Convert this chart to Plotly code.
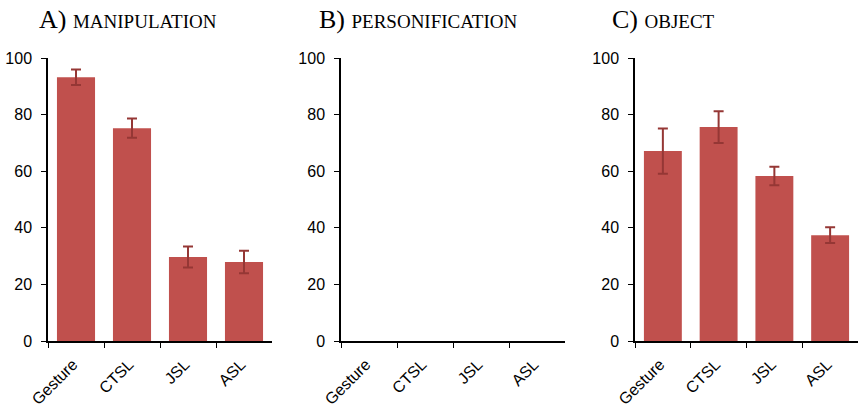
import plotly.graph_objects as go

categories = ["Gesture", "CTSL", "JSL", "ASL"]
manip_vals = [93.2, 75.2, 29.7, 27.9]
manip_err = [2.7, 3.4, 3.7, 4.0]
person_vals = [0, 0, 0, 0]
object_vals = [67.1, 75.6, 58.3, 37.4]
object_err = [8.0, 5.6, 3.3, 2.8]
yticks = [0, 20, 40, 60, 80, 100]

W, H = 859, 408
BAR = "#C0504D"
ERR = "#953735"

fig = go.Figure()

panels = [
    ("x", "y", manip_vals, manip_err, (48, 272)),
    ("x2", "y2", person_vals, None, (341, 565)),
    ("x3", "y3", object_vals, object_err, (635, 858)),
]

for i, (xa, ya, vals, err, dom) in enumerate(panels):
    kw = {}
    if err is not None:
        kw["error_y"] = dict(type="data", array=err, visible=True, color=ERR,
                             thickness=2, width=5)
    fig.add_trace(go.Bar(x=categories, y=vals, xaxis=xa, yaxis=ya,
                         marker=dict(color=BAR, line=dict(width=0)),
                         width=0.68, showlegend=False,
                         opacity=1 if err is not None else 0, **kw))
    suffix = "" if i == 0 else str(i + 1)
    fig.update_layout(**{
        "xaxis" + suffix: dict(domain=[dom[0] / W, dom[1] / W], anchor="y" + suffix,
                               type="category", categoryarray=categories,
                               range=[-0.5, 3.5], showline=True, linecolor="black",
                               linewidth=1.5, ticks="outside", tickson="boundaries",
                               ticklen=5, tickcolor="black", tickangle=-45,
                               ticklabelstandoff=6, ticklabelshift=-3,
                               tickfont=dict(family="Liberation Sans, Arial", size=16, color="black"),
                               showgrid=False, zeroline=False, fixedrange=True,
                               automargin=False),
        "yaxis" + suffix: dict(domain=[(H - 341) / H, (H - 58) / H], anchor="x" + suffix,
                               range=[0, 100], tickvals=yticks, showline=True,
                               linecolor="black", linewidth=1.5, ticks="outside",
                               ticklen=5, tickcolor="black", ticklabelstandoff=6,
                               tickfont=dict(family="Liberation Sans, Arial", size=16, color="black"),
                               showgrid=False, zeroline=False, fixedrange=True,
                               automargin=False),
    })

titles = [("A)", "MANIPULATION", 37), ("B)", "PERSONIFICATION", 317), ("C)", "OBJECT", 610)]
for letter, word, x0 in titles:
    fig.add_annotation(x=x0 / W, y=1 - 19 / H, xref="paper", yref="paper",
                       xanchor="left", yanchor="middle", showarrow=False,
                       text=f"{letter} <span style='font-size:19px'>{word}</span>",
                       font=dict(family="Liberation Serif, Times New Roman", size=26, color="black"))

fig.update_layout(width=W, height=H, margin=dict(l=0, r=0, t=0, b=0, autoexpand=False),
                  plot_bgcolor="white", paper_bgcolor="white", bargap=0.32)

fig.write_html("out.html")
